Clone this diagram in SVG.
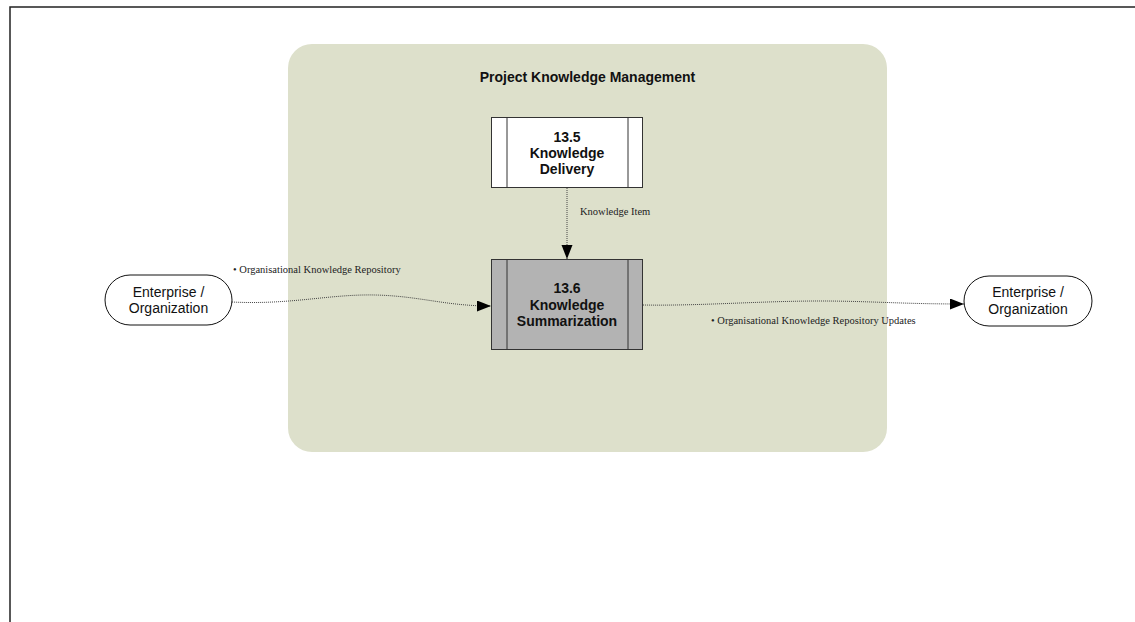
<svg xmlns="http://www.w3.org/2000/svg" width="1135" height="622" viewBox="0 0 1135 622">
<defs>
<style>
.proc{stroke:#333;stroke-width:1}
.ptxt{font-family:"Liberation Sans",Arial,sans-serif;font-size:14px;font-weight:bold;fill:#111;text-anchor:middle}
.etxt{font-family:"Liberation Sans",Arial,sans-serif;font-size:14px;fill:#111;text-anchor:middle}
.lbl{font-family:"Liberation Serif","Times New Roman",serif;font-size:10.5px;fill:#222}
.flow{fill:none;stroke:#444;stroke-width:1;stroke-dasharray:1,1}
</style>
<marker id="arr" markerUnits="userSpaceOnUse" markerWidth="16" markerHeight="12" refX="14" refY="5.5" orient="auto">
<path d="M0,0 L14,5.5 L0,11 Z" fill="#000"/>
</marker>
</defs>
<rect width="1135" height="622" fill="#fff"/>
<path d="M10,622 L10,7 L1135,7" fill="none" stroke="#222" stroke-width="1.5"/>
<g id="container">
<rect x="288" y="44" width="599" height="408" rx="24" fill="#dde0cb"/>
<text class="ptxt" x="587.5" y="82">Project Knowledge Management</text>
</g>
<g id="connectors">
<path class="flow" d="M567,188 L567,259" marker-end="url(#arr)"/>
<text class="lbl" x="580" y="215">Knowledge Item</text>
<path class="flow" d="M232,302 C290,305 330,294 375,295 C420,296 445,306 491,306" marker-end="url(#arr)"/>
<text class="lbl" x="233" y="273">• Organisational Knowledge Repository</text>
<path class="flow" d="M643,305 C700,306 760,301 820,301 C870,301 900,304 964,304" marker-end="url(#arr)"/>
<text class="lbl" x="711" y="324">• Organisational Knowledge Repository Updates</text>
</g>
<g id="n135">
<rect class="proc" x="491.5" y="117.5" width="151" height="70" fill="#fff"/>
<line class="proc" x1="507" y1="117.5" x2="507" y2="187.5"/>
<line class="proc" x1="628" y1="117.5" x2="628" y2="187.5"/>
<text class="ptxt" x="567" y="142">13.5</text>
<text class="ptxt" x="567" y="158">Knowledge</text>
<text class="ptxt" x="567" y="174">Delivery</text>
</g>
<g id="n136">
<rect class="proc" x="491.5" y="259.5" width="151" height="90" fill="#b3b3b3"/>
<line class="proc" x1="507" y1="259.5" x2="507" y2="349.5"/>
<line class="proc" x1="628" y1="259.5" x2="628" y2="349.5"/>
<text class="ptxt" x="567" y="293">13.6</text>
<text class="ptxt" x="567" y="310">Knowledge</text>
<text class="ptxt" x="567" y="326">Summarization</text>
</g>
<g id="entLeft">
<rect x="105" y="275" width="127" height="50" rx="25" fill="#fff" stroke="#111" stroke-width="1"/>
<text class="etxt" x="168.5" y="297">Enterprise /</text>
<text class="etxt" x="168.5" y="313">Organization</text>
</g>
<g id="entRight">
<rect x="964" y="276" width="128" height="50" rx="25" fill="#fff" stroke="#111" stroke-width="1"/>
<text class="etxt" x="1028" y="297">Enterprise /</text>
<text class="etxt" x="1028" y="314">Organization</text>
</g>
</svg>
